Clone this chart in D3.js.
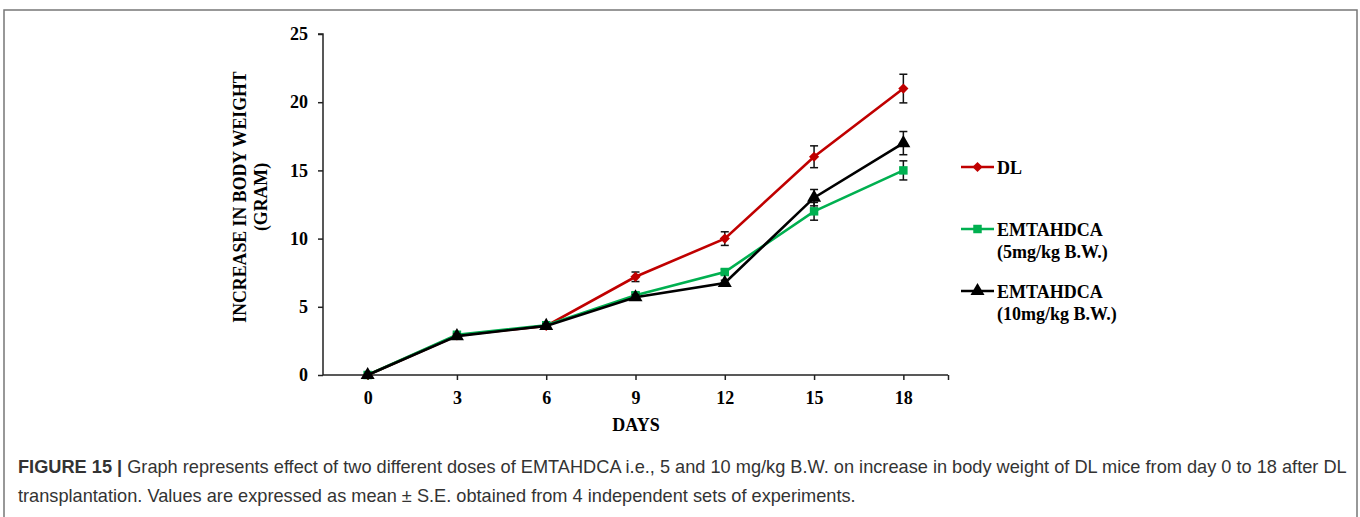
<!DOCTYPE html>
<html>
  <head>
    <meta charset="utf-8">
    <title>Figure 15</title>
    <style>
      body { margin: 0; background: #fff; }
    </style>
  </head>
  <body>
  <script src="https://cdn.jsdelivr.net/npm/d3@7"></script>
  <script>

// days after DL transplantation
var days = [0, 3, 6, 9, 12, 15, 18];

// mean increase in body weight (gram)
var dl      = [0, 2.9, 3.6, 7.2, 10.0, 16.0, 21.0];
var dose5   = [0, 2.95, 3.65, 5.85, 7.55, 12.0, 15.0];
var dose10  = [0, 2.85, 3.6, 5.7, 6.75, 13.0, 17.0];

// S.E. error bars
var dlErr     = [0, 0.15, 0.15, 0.35, 0.5, 0.8, 1.05];
var dose5Err  = [0, 0.15, 0.15, 0.2, 0.2, 0.65, 0.7];
var dose10Err = [0, 0.15, 0.15, 0.2, 0.2, 0.6, 0.85];

var yTicks = [0, 5, 10, 15, 20, 25];

var seriesNames = ['DL', 'EMTAHDCA|(5mg/kg B.W.)', 'EMTAHDCA|(10mg/kg B.W.)'];
var seriesColors = ['#c00000', '#00b050', '#000000'];
// diamond = square turned 45 degrees, like excel's marker
var seriesShapes = [
  {type: d3.symbolSquare, size: 52, rot: 45},
  {type: d3.symbolSquare, size: 72, rot: 0},
  {type: d3.symbolTriangle, size: 85, rot: 0}
];

var series = [
  {name: seriesNames[0], values: dl, err: dlErr, color: seriesColors[0], shape: seriesShapes[0]},
  {name: seriesNames[1], values: dose5, err: dose5Err, color: seriesColors[1], shape: seriesShapes[1]},
  {name: seriesNames[2], values: dose10, err: dose10Err, color: seriesColors[2], shape: seriesShapes[2]}
];

var w = 1360, h = 517;

var svg = d3.select('body').append('svg')
    .attr('width', w)
    .attr('height', h);

// figure frame
svg.append('path')
    .attr('d', 'M4,517V10H1357V517')
    .attr('fill', 'none')
    .attr('stroke', '#777')
    .attr('stroke-width', 1.5);

// x runs half a category beyond first and last day, like the excel chart
var x = d3.scaleLinear().domain([-1.5, 19.5]).range([323, 948]);
var y = d3.scaleLinear().domain([0, 25]).range([375, 34]);

var serif = '"Liberation Serif", "Times New Roman", serif';

// y axis
var yAxis = svg.append('g')
    .attr('transform', 'translate(' + x(-1.5) + ',0)')
    .call(d3.axisLeft(y).tickValues(yTicks).tickSize(5).tickPadding(10));

// x axis
var xAxis = svg.append('g')
    .attr('transform', 'translate(0,' + y(0) + ')')
    .call(d3.axisBottom(x).tickValues(days.concat([19.5])).tickSize(5).tickPadding(11)
      .tickFormat(function(d){ return d > 18 ? '' : d; }));

[xAxis, yAxis].forEach(function(a){
  a.select('.domain').attr('stroke', '#222').attr('stroke-width', 1.5);
  a.selectAll('.tick line').attr('stroke', '#222').attr('stroke-width', 1.5);
  a.selectAll('.tick text')
    .attr('fill', '#000')
    .style('font-family', serif)
    .style('font-weight', 'bold')
    .style('font-size', '18px');
});
yAxis.select('.domain').attr('d', 'M-5,' + y(25) + 'H0V' + y(0));
xAxis.select('.domain').attr('d', 'M' + x(-1.5) + ',0H' + x(19.5));

// axis titles
svg.append('text')
    .attr('x', 636).attr('y', 431)
    .attr('text-anchor', 'middle')
    .style('font-family', serif).style('font-weight', 'bold').style('font-size', '18px')
    .text('DAYS');

var yTitle = svg.append('text')
    .attr('transform', 'translate(246,197) rotate(-90)')
    .attr('text-anchor', 'middle')
    .style('font-family', serif).style('font-weight', 'bold').style('font-size', '17.8px');
yTitle.append('tspan').attr('x', 0).attr('y', 0).text('INCREASE IN BODY WEIGHT');
yTitle.append('tspan').attr('x', 0).attr('y', 21).text('(GRAM)');

var line = d3.line()
    .x(function(d){ return x(d.day); })
    .y(function(d){ return y(d.v); });

function marker(sel, s){
  sel.attr('d', d3.symbol().type(s.shape.type).size(s.shape.size))
     .attr('fill', s.color);
}

series.forEach(function(s, k){
  var pts = s.values.map(function(v, i){ return {day: days[i], v: v, e: s.err[i]}; });
  var g = svg.append('g');

  g.append('path')
      .datum(pts)
      .attr('d', line)
      .attr('fill', 'none')
      .attr('stroke', s.color)
      .attr('stroke-width', 2.6);

  // error bars (stem plus two caps)
  var bars = pts.filter(function(p){ return p.e > 0; });
  g.selectAll('.stem')
      .data(bars)
      .enter().append('line')
      .attr('x1', function(p){ return x(p.day); })
      .attr('x2', function(p){ return x(p.day); })
      .attr('y1', function(p){ return y(p.v + p.e); })
      .attr('y2', function(p){ return y(p.v - p.e); })
      .attr('stroke', '#111').attr('stroke-width', 1.5);
  var caps = [];
  bars.forEach(function(p){
    caps.push({day: p.day, v: p.v + p.e});
    caps.push({day: p.day, v: p.v - p.e});
  });
  g.selectAll('.cap')
      .data(caps)
      .enter().append('line')
      .attr('x1', function(c){ return x(c.day) - 4; })
      .attr('x2', function(c){ return x(c.day) + 4; })
      .attr('y1', function(c){ return y(c.v); })
      .attr('y2', function(c){ return y(c.v); })
      .attr('stroke', '#111').attr('stroke-width', 1.5);

  g.selectAll('.mark')
      .data(pts)
      .enter().append('path')
      .attr('transform', function(p){
        return 'translate(' + x(p.day) + ',' + y(p.v) + ') rotate(' + s.shape.rot + ')';
      })
      .call(marker, s);
});

// legend
var legendY = [167, 229, 291];
series.forEach(function(s, k){
  var lg = svg.append('g').attr('transform', 'translate(961,' + legendY[k] + ')');
  lg.append('line')
      .attr('x1', 0).attr('x2', 33)
      .attr('stroke', s.color).attr('stroke-width', 2.6);
  lg.append('path')
      .attr('transform', 'translate(16.5,0) rotate(' + s.shape.rot + ')')
      .call(marker, s);
  var t = lg.append('text')
      .attr('x', 36).attr('y', 7)
      .style('font-family', serif).style('font-weight', 'bold').style('font-size', '18px');
  s.name.split('|').forEach(function(part, j){
    t.append('tspan').attr('x', 36).attr('dy', j ? 22 : 0).text(part);
  });
});

// caption
var sans = '"Liberation Sans", Arial, sans-serif';
var cap1 = svg.append('text')
    .attr('x', 18).attr('y', 473)
    .style('font-family', sans).style('font-size', '18.2px').attr('fill', '#333');
cap1.append('tspan').style('font-weight', 'bold').text('FIGURE 15 | ');
cap1.append('tspan').text('Graph represents effect of two different doses of EMTAHDCA i.e., 5 and 10 mg/kg B.W. on increase in body weight of DL mice from day 0 to 18 after DL');
svg.append('text')
    .attr('x', 18).attr('y', 502)
    .style('font-family', sans).style('font-size', '18.2px').attr('fill', '#333')
    .text('transplantation. Values are expressed as mean \u00b1 S.E. obtained from 4 independent sets of experiments.');

  </script>
  </body>
</html>
